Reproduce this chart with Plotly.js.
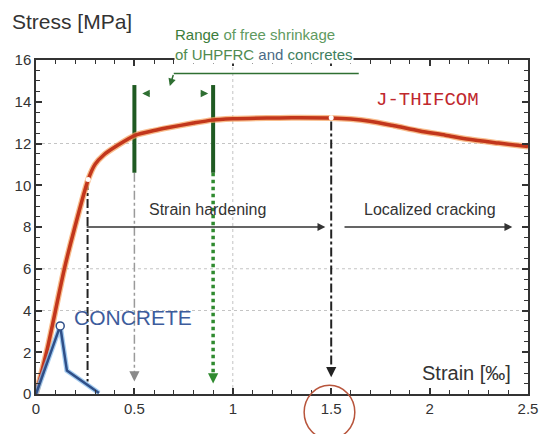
<!DOCTYPE html>
<html>
<head>
<meta charset="utf-8">
<script src="https://cdn.plot.ly/plotly-3.0.1.min.js"></script>
<style>html,body{margin:0;padding:0;background:#fff;}#chart{width:547px;height:434px;}</style>
</head>
<body>
<div id="chart"></div>
<script>
// ---- Data ----
const strainJ = [0, 0.056, 0.143, 0.194, 0.265, 0.30, 0.344, 0.413, 0.506, 0.60, 0.667, 0.80, 0.895, 1.0, 1.173, 1.30, 1.494, 1.60, 1.696, 1.82, 1.95, 2.08, 2.20, 2.35, 2.50];
const stressJ = [0, 2.1, 5.95, 7.87, 10.27, 11.0, 11.45, 11.9, 12.4, 12.62, 12.75, 12.98, 13.12, 13.18, 13.22, 13.23, 13.22, 13.17, 13.07, 12.85, 12.6, 12.4, 12.2, 12.02, 11.85];

const strainC = [0, 0.123, 0.157, 0.32];
const stressC = [0, 3.26, 1.12, 0.05];

const breakStrain = [0.265, 1.5];
const breakStress = [10.27, 13.23];

// vertical guide lines: strain, top stress, bottom stress
const guideStrain = [0.262, 0.5, 0.9, 1.5];
const guideTop    = [10.2, 10.6, 10.6, 13.05];
const guideBottom = [0.6, 0.95, 0.85, 1.1];
const arrowTip    = [null, 0.6, 0.5, 0.8];

// free shrinkage range bars
const rangeStrain = [0.5, 0.9];
const rangeLow = 10.6;
const rangeHigh = 14.8;

const xRange = [0, 2.5];
const yRange = [0, 16];
const xTickStep = 0.5;
const xMinorStep = 0.1;
const yTickStep = 2;
const yMinorStep = 0.5;

const gridY = [4, 6, 12];
const gridX = [1];

// ---- Traces ----
const traces = [];

const guideStyles = [
  {color: '#222', width: 2, dash: 'dashdot'},
  {color: '#9a9a9a', width: 1.5, dash: 'dashdot'},
  {color: '#2f8a2f', width: 3.5, dash: 'dot'},
  {color: '#222', width: 2, dash: 'dashdot'}
];
guideStrain.forEach((s, i) => {
  traces.push({x: [s, s], y: [guideTop[i], guideBottom[i]], mode: 'lines', line: guideStyles[i], hoverinfo: 'skip'});
});

rangeStrain.forEach(s => {
  traces.push({x: [s, s], y: [rangeLow, rangeHigh], mode: 'lines', line: {color: '#1f5a22', width: 4}, hoverinfo: 'skip'});
});

// J-THIFCOM curve (halo + core)
traces.push({x: strainJ, y: stressJ, mode: 'lines', line: {color: 'rgba(245,160,90,0.7)', width: 6, shape: 'spline', smoothing: 0.7}, hoverinfo: 'skip'});
traces.push({x: strainJ, y: stressJ, mode: 'lines', line: {color: '#c2361c', width: 3.5, shape: 'spline', smoothing: 0.7}, name: 'J-THIFCOM'});
traces.push({x: breakStrain, y: breakStress, mode: 'markers', marker: {color: '#fff', size: 5, line: {width: 0}}, hoverinfo: 'skip'});

// Concrete curve
traces.push({x: strainC, y: stressC, mode: 'lines', line: {color: 'rgba(140,190,235,0.8)', width: 5}, hoverinfo: 'skip'});
traces.push({x: strainC, y: stressC, mode: 'lines', line: {color: '#2f4f88', width: 2.5}, name: 'CONCRETE'});
traces.push({x: [strainC[1]], y: [stressC[1]], mode: 'markers', marker: {color: '#fff', size: 8, line: {color: '#2f4f88', width: 1.5}}, hoverinfo: 'skip'});

// ---- Shapes ----
const shapes = [];
gridY.forEach(v => shapes.push({type: 'line', xref: 'paper', x0: 0, x1: 1, yref: 'y', y0: v, y1: v, layer: 'below', line: {color: '#c4c4c4', width: 1, dash: 'dot'}}));
gridX.forEach(v => shapes.push({type: 'line', yref: 'paper', y0: 0, y1: 1, xref: 'x', x0: v, x1: v, layer: 'below', line: {color: '#c4c4c4', width: 1, dash: 'dot'}}));
shapes.push({type: 'line', xref: 'x', yref: 'y', x0: 0.70, x1: 1.64, y0: 15.35, y1: 15.35, line: {color: '#2f6f32', width: 1.5}});
shapes.push({type: 'circle', xref: 'paper', yref: 'paper', x0: 0.545, x1: 0.648, y0: -0.135, y1: 0.026, line: {color: '#b8553c', width: 1.5}});

// ---- Annotations ----
const annotations = [];
const arrowColors = [null, '#8a8a8a', '#2f8a2f', '#222'];
guideStrain.forEach((s, i) => {
  if (arrowTip[i] === null) return;
  annotations.push({x: s, y: arrowTip[i], ax: s, ay: arrowTip[i] + 0.45, xref: 'x', yref: 'y', axref: 'x', ayref: 'y', text: '', showarrow: true, arrowhead: 2, arrowsize: 1.2, arrowwidth: 1.7, arrowcolor: arrowColors[i]});
});
annotations.push({x: 0.54, y: 14.4, ax: 0.585, ay: 14.4, xref: 'x', yref: 'y', axref: 'x', ayref: 'y', text: '', showarrow: true, arrowhead: 2, arrowsize: 1, arrowwidth: 1.5, arrowcolor: '#2f6f32'});
annotations.push({x: 0.875, y: 14.4, ax: 0.83, ay: 14.4, xref: 'x', yref: 'y', axref: 'x', ayref: 'y', text: '', showarrow: true, arrowhead: 2, arrowsize: 1, arrowwidth: 1.5, arrowcolor: '#2f6f32'});
annotations.push({x: 0.68, y: 14.75, ax: 0.70, ay: 15.35, xref: 'x', yref: 'y', axref: 'x', ayref: 'y', text: '', showarrow: true, arrowhead: 2, arrowsize: 1, arrowwidth: 1.5, arrowcolor: '#2f6f32'});
annotations.push({x: 1.47, y: 8, ax: 0.25, ay: 8, xref: 'x', yref: 'y', axref: 'x', ayref: 'y', text: '', showarrow: true, arrowhead: 2, arrowsize: 1.2, arrowwidth: 1.3, arrowcolor: '#333'});
annotations.push({x: 2.42, y: 8, ax: 1.56, ay: 8, xref: 'x', yref: 'y', axref: 'x', ayref: 'y', text: '', showarrow: true, arrowhead: 2, arrowsize: 1.2, arrowwidth: 1.3, arrowcolor: '#333'});
annotations.push({x: 0.87, y: 8.85, xref: 'x', yref: 'y', text: 'Strain hardening', showarrow: false, font: {family: 'Arial, Liberation Sans, sans-serif', size: 16, color: '#333'}});
annotations.push({x: 2.0, y: 8.85, xref: 'x', yref: 'y', text: 'Localized cracking', showarrow: false, font: {family: 'Arial, Liberation Sans, sans-serif', size: 16, color: '#333'}});
annotations.push({x: 1.99, y: 14.1, xref: 'x', yref: 'y', text: 'J-THIFCOM', showarrow: false, font: {family: 'Liberation Mono, DejaVu Sans Mono, monospace', size: 19, color: '#c0282d'}});
annotations.push({x: 0.493, y: 3.65, xref: 'x', yref: 'y', text: 'CONCRETE', showarrow: false, font: {family: 'Arial, Liberation Sans, sans-serif', size: 21, color: '#3d5c9c'}});
annotations.push({x: 0.70, y: 1.045, xref: 'x', yref: 'paper', xanchor: 'left', yanchor: 'middle', align: 'left', bgcolor: '#fff', borderpad: 0,
  text: '<span style="color:#3b7d3b">Range</span> <span style="color:#5f9a5f">of free shrinkage</span><br><span style="color:#4f8a4f">of UHPFRC</span> <span style="color:#4a6a86">and</span> <span style="color:#3f8060">concretes</span>',
  showarrow: false, font: {family: 'Arial, Liberation Sans, sans-serif', size: 15}});
annotations.push({x: 0.97, y: 0.063, xref: 'paper', yref: 'paper', xanchor: 'right', yanchor: 'middle', text: 'Strain [‰]', showarrow: false, font: {family: 'Arial, Liberation Sans, sans-serif', size: 20, color: '#333'}});

const layout = {
  width: 547, height: 434,
  margin: {l: 36, r: 19, t: 60, b: 40},
  paper_bgcolor: '#fff', plot_bgcolor: '#fff',
  font: {family: 'Arial, Liberation Sans, sans-serif', size: 15, color: '#333'},
  showlegend: false,
  title: {text: 'Stress [MPa]', x: 12 / 547, xanchor: 'left', y: 1 - 22 / 434, yanchor: 'middle',
          font: {family: 'Arial, Liberation Sans, sans-serif', size: 21, color: '#333'}},
  xaxis: {range: xRange, dtick: xTickStep, tick0: 0,
          showline: true, linecolor: '#333', linewidth: 1.5, mirror: 'ticks',
          ticks: 'inside', ticklen: 6, tickwidth: 1.5, tickcolor: '#333',
          gridcolor: 'rgba(0,0,0,0)', zerolinecolor: '#333', zerolinewidth: 1.5,
          minor: {dtick: xMinorStep, ticks: 'inside', ticklen: 4, tickwidth: 1.2, tickcolor: '#333'}},
  yaxis: {range: yRange, dtick: yTickStep, tick0: 0,
          showline: true, linecolor: '#333', linewidth: 1.5, mirror: 'ticks',
          ticks: 'inside', ticklen: 6, tickwidth: 1.5, tickcolor: '#333',
          gridcolor: 'rgba(0,0,0,0)', zerolinecolor: '#333', zerolinewidth: 1.5,
          minor: {dtick: yMinorStep, ticks: 'inside', ticklen: 4, tickwidth: 1.2, tickcolor: '#333'}},
  shapes: shapes,
  annotations: annotations
};

Plotly.newPlot('chart', traces, layout, {displayModeBar: false});
</script>
</body>
</html>
